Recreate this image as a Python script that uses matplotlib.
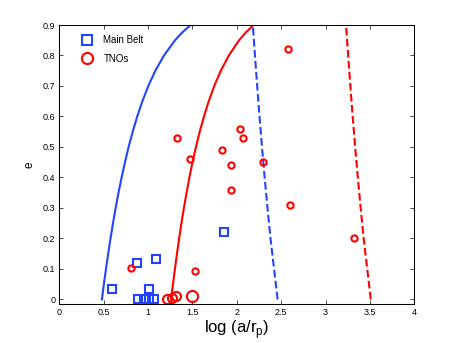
import matplotlib
matplotlib.use("Agg")
import matplotlib.pyplot as plt
from matplotlib.lines import Line2D

plt.rcParams["font.family"] = ["Liberation Sans", "DejaVu Sans"]
plt.rcParams["mathtext.fontset"] = "custom"
plt.rcParams["mathtext.rm"] = "Liberation Sans"

BLUE = "#2244ff"
RED = "#ff0000"

# boundary curves (e vs log(a/r_p))
curve_e = [0.0, 0.05, 0.1, 0.15, 0.2, 0.25, 0.3, 0.35, 0.4, 0.45, 0.5, 0.55,
           0.6, 0.65, 0.7, 0.75, 0.8, 0.85, 0.875, 0.9]
blue_solid_x = [0.48, 0.502, 0.526, 0.551, 0.577, 0.605, 0.635, 0.667, 0.702, 0.74,
                0.781, 0.827, 0.878, 0.936, 1.003, 1.082, 1.179, 1.304, 1.383, 1.48]
red_solid_x = [1.26, 1.281, 1.303, 1.326, 1.35, 1.376, 1.404, 1.434, 1.466, 1.501,
               1.54, 1.582, 1.63, 1.684, 1.746, 1.82, 1.91, 2.026, 2.10, 2.19]

dash_e = [0.0, 0.1, 0.2, 0.3, 0.4, 0.5, 0.6, 0.7, 0.8, 0.9]
blue_dash_x = [2.46, 2.42, 2.38, 2.346, 2.314, 2.284, 2.256, 2.23, 2.205, 2.181]
red_dash_x = [3.51, 3.47, 3.43, 3.396, 3.364, 3.334, 3.306, 3.28, 3.255, 3.231]

# Main Belt objects
mb_x = [0.59, 0.87, 1.09, 1.01, 0.89, 0.96, 1.01, 1.07, 1.86]
mb_e = [0.033, 0.12, 0.132, 0.033, 0.0, 0.0, 0.0, 0.0, 0.222]

# TNOs (marker size varies)
tno_x = [0.81, 1.53, 1.33, 1.47, 1.83, 1.93, 1.93, 2.04, 2.07, 2.30, 2.58, 2.60, 3.32,
         1.21, 1.27, 1.31, 1.49]
tno_e = [0.104, 0.093, 0.53, 0.46, 0.49, 0.44, 0.36, 0.56, 0.53, 0.45, 0.82, 0.31, 0.20,
         0.003, 0.005, 0.01, 0.012]
tno_size = [4.5] * 13 + [6.5, 6.5, 6.5, 8.0]

x_ticks = [0, 0.5, 1, 1.5, 2, 2.5, 3, 3.5, 4]
x_labels = ["0", "0.5", "1", "1.5", "2", "2.5", "3", "3.5", "4"]
y_ticks = [0, 0.1, 0.2, 0.3, 0.4, 0.5, 0.6, 0.7, 0.8, 0.9]
y_labels = ["0", "0.1", "0.2", "0.3", "0.4", "0.5", "0.6", "0.7", "0.8", "0.9"]

fig = plt.figure(figsize=(4.58, 3.43), dpi=100)
ax = fig.add_axes([0.1295, 0.1137, 0.775, 0.8134])

ax.plot(blue_solid_x, curve_e, color=BLUE, lw=1.5)
ax.plot(red_solid_x, curve_e, color=RED, lw=1.5)
ax.plot(blue_dash_x, dash_e, color=BLUE, lw=1.5, ls="--")
ax.plot(red_dash_x, dash_e, color=RED, lw=1.5, ls="--")

ax.plot(mb_x, mb_e, ls="none", marker="s", ms=6, mew=1.5, mfc="none", mec=BLUE)
for x, e, s in zip(tno_x, tno_e, tno_size):
    ax.plot(x, e, ls="none", marker="o", ms=s, mew=1.5, mfc="none", mec=RED)

ax.set_xlim(0, 4)
ax.set_ylim(-0.015, 0.9)
ax.set_xticks(x_ticks)
ax.set_xticklabels(x_labels)
ax.set_yticks(y_ticks)
ax.set_yticklabels(y_labels)
ax.tick_params(direction="in", top=True, right=True, length=3, width=0.5,
               labelsize=6.5, pad=3)
for sp in ax.spines.values():
    sp.set_linewidth(0.75)

ax.set_xlabel(r"log (a/r$_\mathregular{p}$)", fontsize=12, labelpad=1)
ax.set_ylabel("e", fontsize=8.5, labelpad=5)

handles = [
    Line2D([], [], ls="none", marker="s", ms=7, mew=1.5, mfc="none", mec=BLUE),
    Line2D([], [], ls="none", marker="o", ms=8, mew=1.5, mfc="none", mec=RED),
]
ax.legend(handles, ["Main Belt", "TNOs"], loc="upper left", frameon=False,
          fontsize=7, handlelength=1.0, handletextpad=1.2, labelspacing=0.9,
          borderaxespad=0.0, bbox_to_anchor=(0.053, 0.978))

fig.savefig("out.png", dpi=100)
